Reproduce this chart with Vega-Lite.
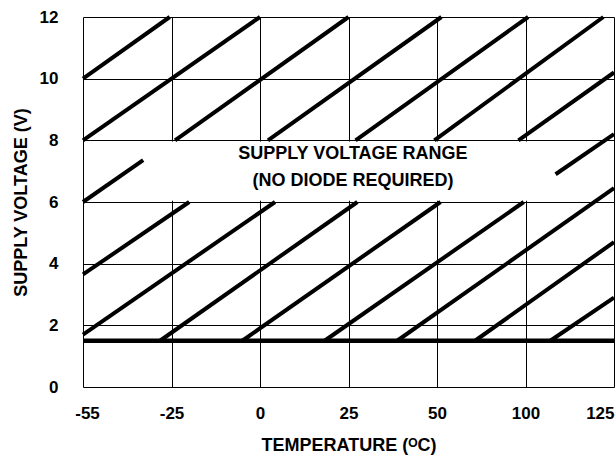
{
  "$schema": "https://vega.github.io/schema/vega-lite/v6.json",
  "width": 531,
  "height": 370,
  "autosize": "none",
  "padding": {"left": 83, "top": 17, "right": 2, "bottom": 72},
  "background": "white",
  "config": {
    "view": {"stroke": null},
    "font": "Liberation Sans",
    "axis": {"labelFont": "Liberation Sans", "titleFont": "Liberation Sans", "labelFontWeight": "bold", "titleFontWeight": "bold", "labelColor": "black", "titleColor": "black", "labelFontSize": 17, "titleFontSize": 18}
  },
  "datasets": {
    "hatch": [
      {"seg": "U1", "x": 0, "v": 10}, {"seg": "U1", "x": 0.98, "v": 12},
      {"seg": "U2", "x": 0, "v": 8}, {"seg": "U2", "x": 2.0, "v": 12},
      {"seg": "U3", "x": 1.04, "v": 8}, {"seg": "U3", "x": 3.0, "v": 12},
      {"seg": "U4", "x": 2.09, "v": 8}, {"seg": "U4", "x": 4.05, "v": 12},
      {"seg": "U5", "x": 3.08, "v": 8}, {"seg": "U5", "x": 5.03, "v": 12},
      {"seg": "U6", "x": 3.97, "v": 8}, {"seg": "U6", "x": 5.88, "v": 12},
      {"seg": "U7", "x": 4.92, "v": 8}, {"seg": "U7", "x": 6, "v": 10.2},
      {"seg": "U8", "x": 5.34, "v": 6.9}, {"seg": "U8", "x": 6, "v": 8.2},
      {"seg": "M1", "x": 0, "v": 6}, {"seg": "M1", "x": 0.68, "v": 7.36},
      {"seg": "P1", "x": 0, "v": 3.65}, {"seg": "P1", "x": 1.2, "v": 6},
      {"seg": "P2", "x": 0, "v": 1.7}, {"seg": "P2", "x": 2.17, "v": 6},
      {"seg": "P3", "x": 0.87, "v": 1.5}, {"seg": "P3", "x": 3.1, "v": 6},
      {"seg": "P4", "x": 1.8, "v": 1.5}, {"seg": "P4", "x": 4.04, "v": 6},
      {"seg": "P5", "x": 2.73, "v": 1.5}, {"seg": "P5", "x": 4.98, "v": 6},
      {"seg": "P6", "x": 3.55, "v": 1.5}, {"seg": "P6", "x": 6, "v": 6.45},
      {"seg": "P7", "x": 4.43, "v": 1.5}, {"seg": "P7", "x": 6, "v": 4.7},
      {"seg": "P8", "x": 5.28, "v": 1.5}, {"seg": "P8", "x": 6, "v": 2.9}
    ],
    "box": [{"x": 0.68, "x2": 5.34, "v": 6.04, "v2": 7.96}],
    "floor": [{"x": 0, "v": 1.5}, {"x": 6, "v": 1.5}],
    "labels": [
      {"x": 3.05, "v": 7.55, "t": "SUPPLY VOLTAGE RANGE"},
      {"x": 3.05, "v": 6.68, "t": "(NO DIODE REQUIRED)"}
    ]
  },
  "layer": [
    {
      "data": {"name": "box"},
      "mark": {"type": "rect", "fill": "white", "stroke": null},
      "encoding": {
        "x": {"field": "x", "type": "quantitative",
              "scale": {"domain": [0, 6], "nice": false, "zero": false},
              "axis": {"values": [0, 1, 2, 3, 4, 5, 6], "grid": true, "gridColor": "black", "gridOpacity": 1, "gridWidth": 1,
                       "domain": false, "ticks": false, "tickSize": 0, "labelPadding": 18,
                       "labelExpr": "['-55','-25','0','25','50','100','125'][datum.value]",
                       "labelAlign": {"condition": {"test": "datum.value == 6", "value": "right"}, "value": "center"},
                       "labelOffset": {"condition": {"test": "datum.value == 0", "value": 4}, "value": 0},
                       "title": "TEMPERATURE (ᴼC)", "titlePadding": 15}},
        "x2": {"field": "x2"},
        "y": {"field": "v", "type": "quantitative",
              "scale": {"domain": [0, 12], "nice": false, "zero": false},
              "axis": {"values": [0, 2, 4, 6, 8, 10, 12], "grid": true, "gridColor": "black", "gridOpacity": 1, "gridWidth": 1,
                       "domain": false, "ticks": false, "tickSize": 0, "labelPadding": 25, "zindex": 1,
                       "title": "SUPPLY VOLTAGE (V)", "titlePadding": 9}},
        "y2": {"field": "v2"}
      }
    },
    {
      "data": {"name": "hatch"},
      "mark": {"type": "line", "color": "black", "strokeWidth": 4, "strokeCap": "butt"},
      "encoding": {
        "x": {"field": "x", "type": "quantitative"},
        "y": {"field": "v", "type": "quantitative"},
        "detail": {"field": "seg"}
      }
    },
    {
      "data": {"name": "floor"},
      "mark": {"type": "line", "color": "black", "strokeWidth": 4.5, "strokeCap": "butt"},
      "encoding": {
        "x": {"field": "x", "type": "quantitative"},
        "y": {"field": "v", "type": "quantitative"}
      }
    },
    {
      "data": {"name": "labels"},
      "mark": {"type": "text", "font": "Liberation Sans", "fontWeight": "bold", "fontSize": 18, "color": "black", "align": "center", "baseline": "middle"},
      "encoding": {
        "x": {"field": "x", "type": "quantitative"},
        "y": {"field": "v", "type": "quantitative"},
        "text": {"field": "t"}
      }
    }
  ]
}
